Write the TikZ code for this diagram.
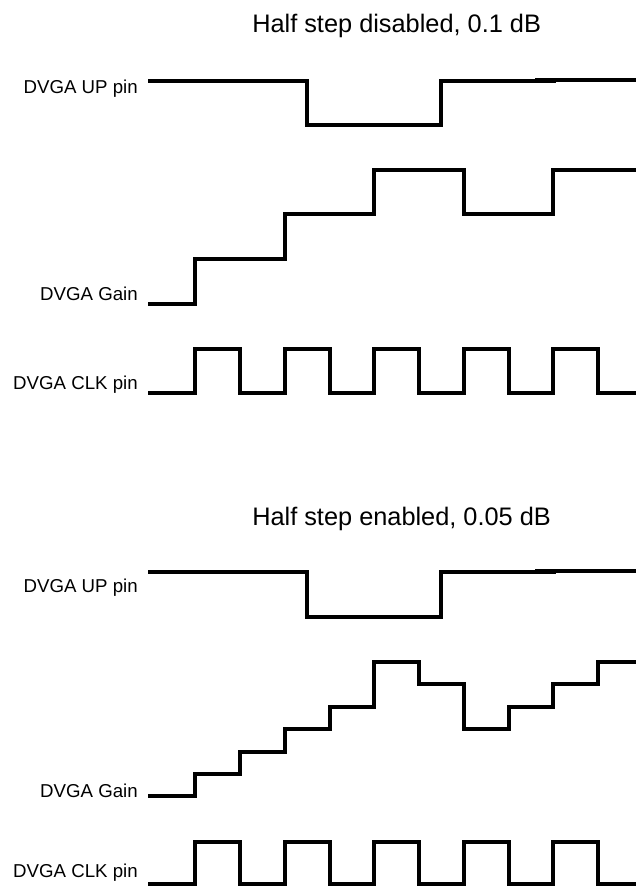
\documentclass[tikz,border=0pt]{standalone}
\usepackage{fontspec}
\setmainfont{Liberation Sans}
\usepackage{tikz}
\usetikzlibrary{calc,positioning}
\tikzset{
  wave/.style={line width=3pt,black,line join=miter},
  lbl/.style={font=\fontsize{14}{16}\selectfont,anchor=base east,inner sep=0pt},
  ttl/.style={font=\fontsize{19}{22}\selectfont,anchor=base west,inner sep=0pt}
}
% clock: low level, high level
\newcommand{\clkwave}[2]{%
  \draw[wave] (148,#1) \foreach \k in {0,...,4} {
    -- ({195+89.6*\k},#1) -- ({195+89.6*\k},#2)
    -- ({240+89.6*\k},#2) -- ({240+89.6*\k},#1) } -- (636,#1);
}
\begin{document}
\begin{tikzpicture}[x=0.75pt,y=-0.75pt]
\useasboundingbox (0,0) rectangle (636,886);
% upper panel
\node[ttl] (t1) at (252,32) {Half step disabled, 0.1 dB};
\node[lbl] (up1) at (138,93) {DVGA UP pin};
\draw[wave] (148,81) -- (307,81) -- (307,125) -- (441,125) -- (441,81) -- (556,81);
\draw[wave] (535,80) -- (636,80);
\node[lbl] (gain1) at (138,300) {DVGA Gain};
\draw[wave] (148,304) -- (195,304) -- (195,259) -- (284.6,259) -- (284.6,214)
  -- (374.2,214) -- (374.2,170) -- (463.8,170) -- (463.8,214) -- (553.4,214)
  -- (553.4,170) -- (636,170);
\node[lbl] (clk1) at (138,389) {DVGA CLK pin};
\clkwave{393}{349}
% lower panel
\node[ttl] (t2) at (252,525) {Half step enabled, 0.05 dB};
\node[lbl] (up2) at (138,592) {DVGA UP pin};
\draw[wave] (148,572) -- (307,572) -- (307,617) -- (441,617) -- (441,572) -- (556,572);
\draw[wave] (535,571) -- (636,571);
\node[lbl] (gain2) at (138,797) {DVGA Gain};
\draw[wave] (148,796) -- (195,796) -- (195,774) -- (240,774) -- (240,752)
  -- (284.6,752) -- (284.6,729) -- (329.6,729) -- (329.6,707) -- (374.2,707)
  -- (374.2,662) -- (419.2,662) -- (419.2,684) -- (463.8,684) -- (463.8,729)
  -- (508.8,729) -- (508.8,707) -- (553.4,707) -- (553.4,684) -- (598.4,684)
  -- (598.4,662) -- (636,662);
\node[lbl] (clk2) at (138,877) {DVGA CLK pin};
\clkwave{884}{842}
\end{tikzpicture}
\end{document}
